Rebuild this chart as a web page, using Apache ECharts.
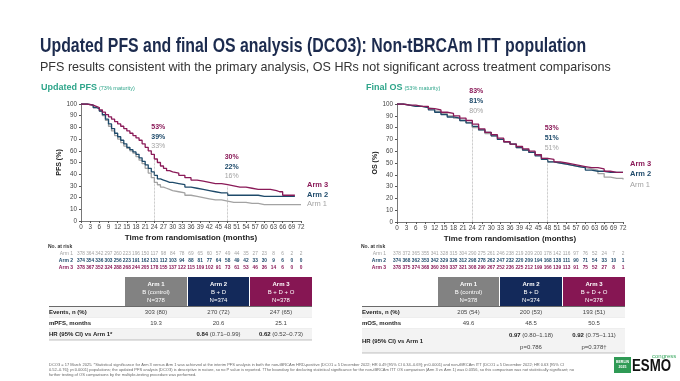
<!DOCTYPE html>
<html><head><meta charset="utf-8">
<script src="https://cdn.jsdelivr.net/npm/echarts@6/dist/echarts.min.js"></script>
<style>html,body{margin:0;padding:0;background:#fff}#c{width:680px;height:381px}</style>
</head><body><div id="c"></div>
<script>
// ---------- DATA ----------
const xTicks = [0,3,6,9,12,15,18,21,24,27,30,33,36,39,42,45,48,51,54,57,60,63,66,69,72];
const pfsT    = [0,2,4,5,6,7,8,9,10,11,12,13,14,15,16,17,18,19,20,21,22,23,24,25,26,27,28,29,30,32,34,36,38,40,42,44,46,48,50,52,54,56,58,60,62,64,65,66,67,68,70,72];
const pfsArm1 = [100,99,97,96,94,90,86,81,77,73,70,67,64,62,60,58,55,52,49,45,41,37,33,31,29,28,27,26,25,24,22,21,20,19,18,18,17,16,16,16,15,15,14,14,14,14,14,14,14,14,14,14];
const pfsArm2 = [100,99,97,96,94,91,87,83,79,75,72,69,66,63,61,59,57,54,51,48,45,42,39,36,35,34,33,33,32,31,29,28,27,26,25,24,24,22,22,22,22,22,21,21,21,21,21,21,21,21,null,null];
const pfsArm3 = [100,99,98,97,95,93,91,89,87,85,83,81,79,77,75,73,71,69,66,63,60,57,53,50,47,45,43,42,41,39,37,35,34,33,32,32,31,30,29,29,28,27,27,27,26,25,25,22,22,22,null,null];
const osT     = [0,2,4,6,8,10,12,14,16,18,20,22,24,26,28,30,32,34,36,38,40,42,44,46,48,50,52,54,56,58,60,62,64,66,68,70,72];
const osArm1  = [100,99,98,98,97,96,94,92,90,88,86,84,80,78,75,73,70,68,66,63,61,59,57,54,51,50,49,48,47,46,45,44,41,38,37,37,36];
const osArm2  = [100,99,98,98,97,95,93,91,89,88,86,84,81,78,76,73,70,68,66,63,61,59,56,53,51,50,49,48,47,46,44,43,43,42,42,42,null];
const osArm3  = [100,99,99,98,98,96,95,93,92,90,88,86,83,79,76,74,71,68,66,64,62,60,57,54,53,51,50,49,48,47,46,46,45,43,42,42,null];
// landmark values, order: Arm 3, Arm 2, Arm 1
const pfsMarks = {24:[53,39,33], 48:[30,22,16]};
const osMarks  = {24:[83,81,80], 48:[53,51,51]};
const pfsRisk1 = [378,364,342,297,260,223,196,150,117,98,84,78,69,65,60,57,49,44,35,27,23,8,6,2,2];
const pfsRisk2 = [374,354,336,303,256,223,191,162,131,112,103,94,88,81,77,64,58,49,42,33,30,9,6,0,0];
const pfsRisk3 = [378,367,352,324,288,268,244,205,178,155,137,122,115,109,102,91,73,61,53,46,36,14,6,0,0];
const osRisk1  = [378,372,365,355,341,328,315,304,290,275,261,246,238,219,209,200,178,142,116,97,76,52,24,7,2];
const osRisk2  = [374,368,362,353,342,329,326,312,298,278,262,247,232,220,209,194,168,138,111,90,71,54,33,10,1];
const osRisk3  = [378,375,374,368,360,350,337,321,308,290,267,252,236,225,212,199,166,139,113,91,75,52,27,8,1];
const armNames = ['Arm 1','Arm 2','Arm 3'];
const armHead  = [['Arm 1','B (control)','N=378'],['Arm 2','B + D','N=374'],['Arm 3','B + D + O','N=378']];
const pfsRows  = [['Events, n (%)','303 (80)','270 (72)','247 (65)'],['mPFS, months','19.3','20.6','25.1']];
const pfsHR    = [['0.84','(0.71–0.99)'],['0.62','(0.52–0.73)']];
const osRows   = [['Events, n (%)','205 (54)','200 (53)','193 (51)'],['mOS, months','49.6','48.5','50.5']];
const osHR     = [['0.97','(0.80–1.18)','p=0.786'],['0.92','(0.75–1.11)','p=0.378†']];

// ---------- STYLE ----------
const C1='#a3a3a3', C2='#1e4a6a', C3='#8a1a58';
const H1='#828282', H2='#13295a', H3='#861653';
const FF="'Liberation Sans', Arial, sans-serif";
const chart = echarts.init(document.getElementById('c'), null, {renderer:'canvas'});

function xAxis(gi){return {type:'value',gridIndex:gi,min:0,max:72,interval:3,
  name:'Time from randomisation (months)',nameLocation:'middle',nameGap:13,
  nameTextStyle:{fontSize:8,fontWeight:'bold',color:'#222',fontFamily:FF},
  axisLine:{lineStyle:{color:'#555',width:0.8}},axisTick:{length:2,lineStyle:{color:'#555'}},
  axisLabel:{fontSize:6.3,color:'#444',margin:3,fontFamily:FF},splitLine:{show:false}};}
function yAxis(gi,name){return {type:'value',gridIndex:gi,min:0,max:100,interval:10,
  name:name,nameLocation:'middle',nameGap:18,nameRotate:90,
  nameTextStyle:{fontSize:7,fontWeight:'bold',color:'#222',fontFamily:FF},
  axisLine:{show:true,lineStyle:{color:'#555',width:0.8}},axisTick:{show:true,length:2,lineStyle:{color:'#555'}},
  axisLabel:{fontSize:6.3,color:'#444',margin:4,fontFamily:FF},splitLine:{show:false}};}
function ser(gi,t,v,col,marks,idx){
  const s={type:'line',xAxisIndex:gi,yAxisIndex:gi,step:'end',showSymbol:false,silent:true,
    data:t.map((m,i)=>[m,v[i]]),lineStyle:{color:col,width:1.3},z:2+idx};
  if(marks){s.markLine={silent:true,symbol:'none',label:{show:false},
    lineStyle:{color:'#999',width:0.7,type:'dotted'},
    data:Object.keys(marks).map(k=>[{coord:[+k,0]},{coord:[+k,Math.max(...marks[k])]}])};}
  return s;
}
chart.setOption({
  backgroundColor:'#fff',animation:false,
  grid:[{left:81,top:104,width:220,height:117},{left:397,top:104,width:226,height:118}],
  xAxis:[xAxis(0),xAxis(1)],
  yAxis:[yAxis(0,'PFS (%)'),yAxis(1,'OS (%)')],
  series:[ser(0,pfsT,pfsArm1,C1,pfsMarks,0),ser(0,pfsT,pfsArm2,C2,null,1),ser(0,pfsT,pfsArm3,C3,null,2),
          ser(1,osT,osArm1,C1,osMarks,0),ser(1,osT,osArm2,C2,null,1),ser(1,osT,osArm3,C3,null,2)]
});

// ---------- GRAPHICS ----------
const g=[];
function T(x,y,text,o){o=o||{};const e={type:'text',x:x,y:y,silent:true,z:10,
  style:{text:text,fill:o.c||'#333',fontSize:o.s||7,fontWeight:o.w||'normal',fontFamily:o.f||FF,
  align:o.a||'left',verticalAlign:o.v||'middle',rich:o.rich}};
  if(o.sx){e.scaleX=o.sx;} if(o.width){e.style.width=o.width;e.style.overflow='break';e.style.lineHeight=o.lh;}
  g.push(e);}
function R(x,y,w,h,fill){g.push({type:'rect',silent:true,z:5,shape:{x:x,y:y,width:w,height:h},style:{fill:fill}});}
function L(x1,y1,x2,y2,col,w){g.push({type:'line',silent:true,z:6,shape:{x1:x1,y1:y1,x2:x2,y2:y2},style:{stroke:col,lineWidth:w}});}

// titles
T(40,46,'Updated PFS and final OS analysis (DCO3): Non-tBRCAm ITT population',{s:21,w:'bold',c:'#1c2b4e',sx:0.755});
T(40,67,'PFS results consistent with the primary analysis, OS HRs not significant across treatment comparisons',{s:13.5,c:'#333',sx:0.93});
T(41,88,'{a|Updated PFS} {b|(73% maturity)}',{rich:{a:{fontSize:9,fontWeight:'bold',fill:'#2ea58a',fontFamily:FF},b:{fontSize:5.5,fill:'#2ea58a',fontFamily:FF}}});
T(366,88,'{a|Final OS} {b|(53% maturity)}',{rich:{a:{fontSize:9,fontWeight:'bold',fill:'#2ea58a',fontFamily:FF},b:{fontSize:5.5,fill:'#2ea58a',fontFamily:FF}}});

const px=(gi,m)=>chart.convertToPixel({gridIndex:gi},[m,0])[0];
const cols=[C3,C2,C1];
// annotations
function ann(gi,marks,ys){Object.keys(marks).forEach((k,j)=>{const v=marks[k];
  [0,1,2].forEach(r=>T(px(gi,+k)+4,ys[j][r],v[r]+'%',{s:7,w:r<2?'bold':'normal',c:cols[r],a:'center'}));});}
ann(0,pfsMarks,[[127,137,146],[157,167,176]]);
ann(1,osMarks,[[91,101,111],[128,138,148]]);
// arm labels at right
[[307,[185,195,204]],[630,[164,174,185]]].forEach(([x,ys])=>{
  T(x,ys[0],'Arm 3',{s:7.5,w:'bold',c:C3});T(x,ys[1],'Arm 2',{s:7.5,w:'bold',c:C2});T(x,ys[2],'Arm 1',{s:7.5,c:C1});});

// at risk
function risk(gi,lx,rows){T(lx-25,247,'No. at risk',{s:5,w:'bold',c:'#333'});
  const ys=[254,261,268],cc=[C1,C2,C3];
  rows.forEach((r,i)=>{T(lx,ys[i],armNames[i],{s:5,w:i?'bold':'normal',c:cc[i],a:'right'});
    r.forEach((n,j)=>T(px(gi,xTicks[j]),ys[i],String(n),{s:4.8,w:i?'bold':'normal',c:cc[i],a:'center'}));});}
risk(0,73,[pfsRisk1,pfsRisk2,pfsRisk3]);
risk(1,386,[osRisk1,osRisk2,osRisk3]);

// tables
function table(cx,lx,rows,hr,hrLabel,isOS){
  const hc=[H1,H2,H3];
  cx.forEach((c,i)=>{R(c[0],277,c[1]-c[0],29,hc[i]);
    armHead[i].forEach((t,k)=>T((c[0]+c[1])/2,284+k*8,t,{s:6,c:'#fff',a:'center',w:k==0?'bold':'normal'}));});
  const right=cx[2][1];
  L(lx,306.5,right,306.5,'#444',0.8);
  R(lx,307,right-lx,10,'#f3f3f3');
  rows.forEach((r,i)=>{const y=312+i*11;
    T(lx,y,r[0],{s:6,w:'bold',c:'#222'});
    for(let k=1;k<4;k++)T((cx[k-1][0]+cx[k-1][1])/2,y,r[k],{s:6,c:'#444',a:'center'});
    L(lx,y+5.5,right,y+5.5,'#ddd',0.5);});
  if(!isOS){R(lx,329,right-lx,11,'#f3f3f3');
    T(lx,334,hrLabel,{s:6,w:'bold',c:'#222'});
    hr.forEach((h,i)=>T((cx[i+1][0]+cx[i+1][1])/2,334,'{b|'+h[0]+'} '+h[1],{s:6,c:'#444',a:'center',rich:{b:{fontWeight:'bold',fontSize:6,fill:'#222',fontFamily:FF}}}));
    L(lx,340,right,340,'#999',0.6);}
  else{R(lx,329,right-lx,24,'#f3f3f3');
    T(lx,341,hrLabel,{s:6,w:'bold',c:'#222'});
    hr.forEach((h,i)=>{const x=(cx[i+1][0]+cx[i+1][1])/2;
      T(x,335,'{b|'+h[0]+'} '+h[1],{s:6,c:'#444',a:'center',rich:{b:{fontWeight:'bold',fontSize:6,fill:'#222',fontFamily:FF}}});
      T(x,347,h[2],{s:6,c:'#444',a:'center'});});
    L(lx,353,right,353,'#999',0.6);}
}
table([[125,187],[188,249],[250,312]],49,pfsRows,pfsHR,'HR (95% CI) vs Arm 1*',false);
table([[438,499],[500,562],[563,625]],362,osRows,osHR,'HR (95% CI) vs Arm 1',true);

// footnote
T(49,362,'DCO3 = 17 March 2025. *Statistical significance for Arm 3 versus Arm 1 was achieved at the interim PFS analysis in both the non-tBRCAm HRD-positive (DCO1 = 5 December 2022; HR 0.49 [95% CI 0.34–0.69]; p<0.0001) and non-tBRCAm ITT (DCO1 = 5 December 2022; HR 0.63 [95% CI 0.52–0.76]; p<0.0001) populations; the updated PFS analysis (DCO3) is descriptive in nature, so no P value is reported. †The boundary for declaring statistical significance for the non-tBRCAm ITT OS comparison (Arm 3 vs Arm 1) was 0.0356, so this comparison was not statistically significant; no further testing of OS comparisons by the multiple-testing procedure was performed.',
  {s:4,c:'#666',v:'top',width:530,lh:5});
// logo
R(614,357,17,16,'#2f9a55');
T(622.5,362,'BERLIN',{s:3.5,c:'#fff',a:'center',w:'bold'});T(622.5,367,'2025',{s:3.5,c:'#fff',a:'center',w:'bold'});
T(632,366,'ESMO',{s:17,w:'bold',c:'#111',sx:0.78});
T(652,356,'congress',{s:6,c:'#3aa860'});

chart.setOption({graphic:g});
</script></body></html>
